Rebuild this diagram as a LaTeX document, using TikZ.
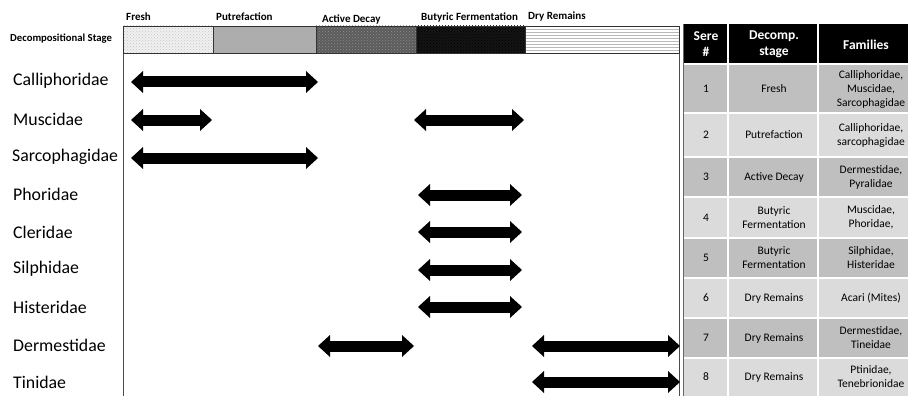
\documentclass[tikz,border=0pt]{standalone}
\usepackage{fontspec}
\setmainfont{Carlito}
\usetikzlibrary{arrows.meta,patterns}
\begin{document}
\begin{tikzpicture}[x=1pt,y=-1pt,
  span/.style={line width=11pt,{Triangle[width=22pt,length=12pt,line width=0pt]}-{Triangle[width=22pt,length=12pt,line width=0pt]}},
  rowlab/.style={anchor=west,inner sep=0pt,font=\fontsize{17.8}{20}\selectfont},
  stagelab/.style={anchor=west,inner sep=0pt,font=\fontsize{11}{12}\selectfont\bfseries},
  seg/.style={draw=black!80,line width=0.7pt},
  hdr/.style={align=center,text=white,inner sep=0pt,font=\fontsize{13.5}{16}\selectfont\bfseries},
  cell/.style={align=center,inner sep=0pt,font=\fontsize{11.5}{14}\selectfont},
]
\useasboundingbox (0,0) rectangle (908,396);
\fill[white] (0,0) rectangle (908,396);

% plot frame
\draw[black!70,line width=0.8pt] (123,26) -- (123,396);
\draw[black!70,line width=0.8pt] (679,26) -- (679,396);

% stage bar
\fill[gray!12] (123,26) rectangle (213,53);
\fill[pattern=crosshatch dots,pattern color=gray!45] (123,26) rectangle (213,53);
\fill[gray!64] (213,26) rectangle (316,53);
\fill[black!64] (316,26) rectangle (416,53);
\fill[pattern=crosshatch dots,pattern color=black!45] (316,26) rectangle (416,53);
\fill[black!92] (416,26) rectangle (525,53);
\fill[pattern=crosshatch dots,pattern color=black] (416,26) rectangle (525,53);
\fill[white] (525,26) rectangle (679,53);
\fill[pattern=horizontal lines,pattern color=gray!55] (525,26) rectangle (679,53);
\draw[seg] (123,26) rectangle (679,53);
\foreach \x in {213,316,416,525} \draw[seg] (\x,26) -- (\x,53);

\node[anchor=west,inner sep=0pt,font=\fontsize{10.7}{12}\selectfont\bfseries] (ds) at (10,39) {Decompositional Stage};
\node[stagelab] (sFresh) at (126,17) {Fresh};
\node[stagelab] (sPut) at (216,17) {Putrefaction};
\node[stagelab] (sAct) at (322,19) {Active Decay};
\node[stagelab] (sBut) at (421,17) {Butyric Fermentation};
\node[stagelab] (sDry) at (528,17) {Dry Remains};

% row labels
\node[rowlab] (r1) at (13,81) {Calliphoridae};
\node[rowlab] (r2) at (13,119) {Muscidae};
\node[rowlab] (r3) at (12,157) {Sarcophagidae};
\node[rowlab] (r4) at (13,194) {Phoridae};
\node[rowlab] (r5) at (13,232) {Cleridae};
\node[rowlab] (r6) at (13,269) {Silphidae};
\node[rowlab] (r7) at (13,307) {Histeridae};
\node[rowlab] (r8) at (13,345) {Dermestidae};
\node[rowlab] (r9) at (13,382) {Tinidae};

% arrows
\coordinate (a1l) at (131,82); \coordinate (a1r) at (318,82);
\coordinate (a2l) at (131,120); \coordinate (a2r) at (212,120);
\coordinate (a3l) at (414,120); \coordinate (a3r) at (524,120);
\coordinate (a4l) at (131,158); \coordinate (a4r) at (318,158);
\coordinate (a5l) at (418,195); \coordinate (a5r) at (522,195);
\coordinate (a6l) at (418,232); \coordinate (a6r) at (522,232);
\coordinate (a7l) at (418,270); \coordinate (a7r) at (522,270);
\coordinate (a8l) at (418,307); \coordinate (a8r) at (522,307);
\coordinate (a9l) at (318,346); \coordinate (a9r) at (414,346);
\coordinate (a10l) at (532,346); \coordinate (a10r) at (680,346);
\coordinate (a11l) at (532,382); \coordinate (a11r) at (680,382);
\foreach \i in {1,...,11} \draw[span] (a\i l) -- (a\i r);

% table
\fill[black] (683,24) rectangle (908,64);
\foreach \ya/\yb/\c in {64/113/gray!50,113/157/gray!28,157/197/gray!50,197/238/gray!28,238/278/gray!50,278/318/gray!28,318/358/gray!50,358/396/gray!28}
  \fill[\c] (683,\ya) rectangle (908,\yb);
\foreach \y in {64,113,157,197,238,278,318,358} \draw[white,line width=1.5pt] (683,\y) -- (908,\y);
\foreach \x in {728,818} \draw[white,line width=1.5pt] (\x,24) -- (\x,396);
\draw[black!60,line width=0.5pt] (683,24) -- (683,396);

\node[hdr] (h1) at (706,44) {Sere\\\#};
\node[hdr] (h2) at (774,44) {Decomp.\\stage};
\node[hdr] (h3) at (866,45) {Families};

\node[cell] (n1) at (706,89) {1};
\node[cell] (d1) at (774,89) {Fresh};
\node[cell] (f1) at (871,89) {Calliphoridae,\\Muscidae,\\Sarcophagidae};
\node[cell] (n2) at (706,135) {2};
\node[cell] (d2) at (774,135) {Putrefaction};
\node[cell] (f2) at (871,135) {Calliphoridae,\\sarcophagidae};
\node[cell] (n3) at (706,177) {3};
\node[cell] (d3) at (774,177) {Active Decay};
\node[cell] (f3) at (871,177) {Dermestidae,\\Pyralidae};
\node[cell] (n4) at (706,217.5) {4};
\node[cell] (d4) at (774,217.5) {Butyric\\Fermentation};
\node[cell] (f4) at (871,217.5) {Muscidae,\\Phoridae,};
\node[cell] (n5) at (706,258) {5};
\node[cell] (d5) at (774,258) {Butyric\\Fermentation};
\node[cell] (f5) at (871,258) {Silphidae,\\Histeridae};
\node[cell] (n6) at (706,298) {6};
\node[cell] (d6) at (774,298) {Dry Remains};
\node[cell] (f6) at (871,298) {Acari (Mites)};
\node[cell] (n7) at (706,338) {7};
\node[cell] (d7) at (774,338) {Dry Remains};
\node[cell] (f7) at (871,338) {Dermestidae,\\Tineidae};
\node[cell] (n8) at (706,377) {8};
\node[cell] (d8) at (774,377) {Dry Remains};
\node[cell] (f8) at (871,377) {Ptinidae,\\Tenebrionidae};
\end{tikzpicture}
\end{document}
